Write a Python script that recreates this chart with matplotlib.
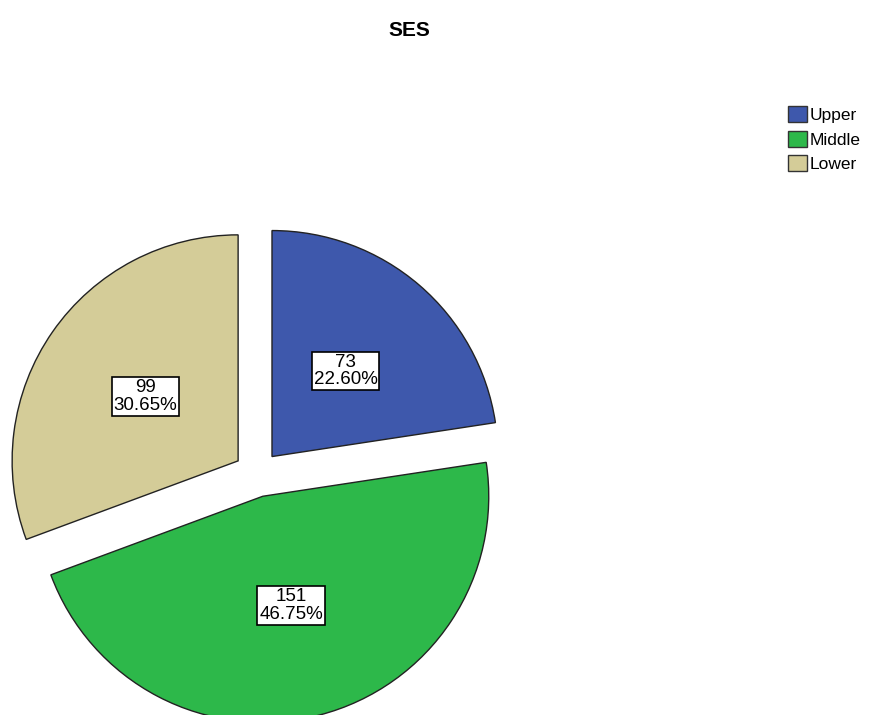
import matplotlib.pyplot as plt
from matplotlib.patches import Patch

plt.rcParams['font.family'] = ['Liberation Sans', 'DejaVu Sans']

labels = ['Upper', 'Middle', 'Lower']
counts = [73, 151, 99]
colors = ['#3e58ac', '#2db84a', '#d4cc98']
total = sum(counts)

fig = plt.figure(figsize=(8.75, 7.15), dpi=100)
ax = fig.add_axes([0, 0, 1, 1])

def fmt(pct):
    n = int(round(pct * total / 100.0))
    return '%d\n%.2f%%' % (n, pct)

# explode is in data units here since radius is in pixels
wedges, texts, autotexts = ax.pie(counts, colors=colors, startangle=90, counterclock=False,
                                  explode=[23, 23, 23], radius=226, center=(257, -474),
                                  autopct=fmt, pctdistance=0.5,
                                  wedgeprops=dict(edgecolor='#222222', linewidth=1.0))
for t in autotexts:
    t.set_fontsize(13.5)
    t.set_linespacing(1.05)
    t.set_bbox(dict(facecolor='white', edgecolor='black', boxstyle='square,pad=0.1', linewidth=1.2))

ax.set_xlim(0, 875)
ax.set_ylim(-715, 0)
ax.set_aspect('equal')
ax.axis('off')

fig.text(0.468, 0.957, 'SES', ha='center', va='center', fontsize=15, fontweight='bold')

handles = [Patch(facecolor=c, edgecolor='#333333', label=l) for c, l in zip(colors, labels)]
fig.legend(handles=handles, loc='upper left', bbox_to_anchor=(0.901, 0.852), frameon=False,
           fontsize=12.5, handlelength=1.05, handleheight=1.05, handletextpad=0.15,
           labelspacing=0.45, borderpad=0, borderaxespad=0)

fig.savefig('out.png', dpi=100)
